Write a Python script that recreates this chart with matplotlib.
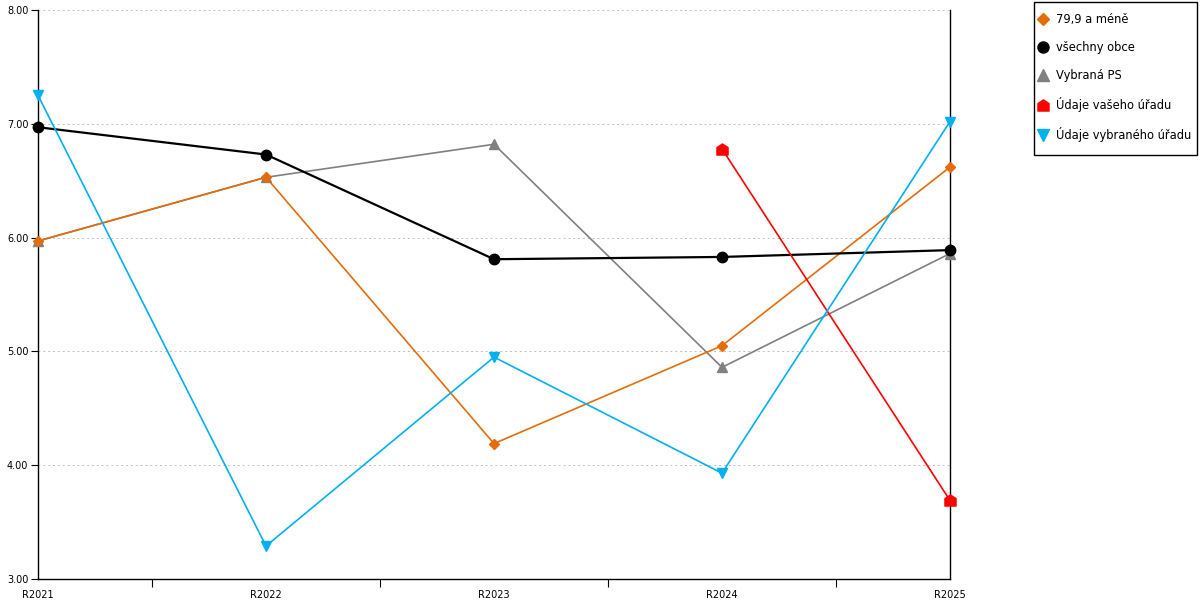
import matplotlib
matplotlib.use("Agg")
import matplotlib.pyplot as plt
import numpy as np
from matplotlib.path import Path
from matplotlib.lines import Line2D
from matplotlib.patches import Rectangle

categories = ["R2021", "R2022", "R2023", "R2024", "R2025"]
s_orange = [5.97, 6.53, 4.19, 5.05, 6.62]
s_black = [6.97, 6.73, 5.81, 5.83, 5.89]
s_gray = [5.97, 6.53, 6.82, 4.86, 5.86]
s_red = [np.nan, np.nan, np.nan, 6.78, 3.69]
s_blue = [7.25, 3.29, 4.95, 3.93, 7.02]
labels = ["79,9 a méně", "všechny obce", "Vybraná PS", "Údaje vašeho úřadu", "Údaje vybraného úřadu"]
yticks = [3, 4, 5, 6, 7, 8]

house = Path([(-1, -1), (1, -1), (1, 0.35), (0, 1), (-1, 0.35), (-1, -1)],
             [Path.MOVETO, Path.LINETO, Path.LINETO, Path.LINETO, Path.LINETO, Path.CLOSEPOLY])

plt.rcParams['font.family'] = ['DejaVu Sans']
fig = plt.figure(figsize=(12, 6), dpi=100)
ax = fig.add_axes([38/1200, 21/600, (950-38)/1200, (579-10)/600])

x = np.arange(len(categories))
styles = [
    (s_gray, "#808080", "^", 7.5, 1.2),
    (s_orange, "#E46C0A", "D", 5, 1.2),
    (s_black, "#000000", "o", 7.5, 1.6),
    (s_red, "#FF0000", house, 8, 1.2),
    (s_blue, "#00B0F0", "v", 7.5, 1.2),
]
for data, col, mk, ms, lw in styles:
    ax.plot(x, data, color=col, marker=mk, markersize=ms, linewidth=lw, clip_on=False, zorder=3)

ax.set_xlim(0, 4)
ax.set_ylim(3, 8)
ax.set_yticks(yticks)
ax.set_yticklabels([f"{v:.2f}" for v in yticks], fontsize=7)
ax.set_xticks(x)
ax.set_xticklabels(categories, fontsize=7)
ax.set_xticks([0.5, 1.5, 2.5, 3.5], minor=True)
ax.tick_params(axis='x', which='major', length=0, pad=8)
ax.tick_params(axis='x', which='minor', length=6, width=0.8, direction='out')
ax.tick_params(axis='y', length=5, width=0.8, pad=2)
ax.grid(axis='y', linestyle=(0, (2, 3)), color='#C0C0C0', linewidth=0.7)
ax.spines['top'].set_visible(False)
for s in ['left', 'bottom', 'right']:
    ax.spines[s].set_color('black')
    ax.spines[s].set_linewidth(1.0)

# legend frame
fig.patches.append(Rectangle((1034/1200, 1 - 155/600), (1197-1034)/1200, (155-2)/600,
                             transform=fig.transFigure, fill=False, edgecolor='black',
                             linewidth=1.0))
leg_cols = ["#E46C0A", "#000000", "#808080", "#FF0000", "#00B0F0"]
leg_mk = ["D", "o", "^", house, "v"]
leg_ms = [6, 8, 8, 8, 8]
handles = [Line2D([], [], linestyle='none', marker=m, color=c, markersize=s)
           for m, c, s in zip(leg_mk, leg_cols, leg_ms)]
leg = fig.legend(handles, labels, loc='upper left', bbox_to_anchor=(1039/1200, 1 - 13/600),
                 fontsize=8.3, frameon=False,
                 handlelength=0.75, handletextpad=0.7, labelspacing=1.3,
                 borderpad=0, borderaxespad=0)

fig.savefig("out.png", dpi=100)
